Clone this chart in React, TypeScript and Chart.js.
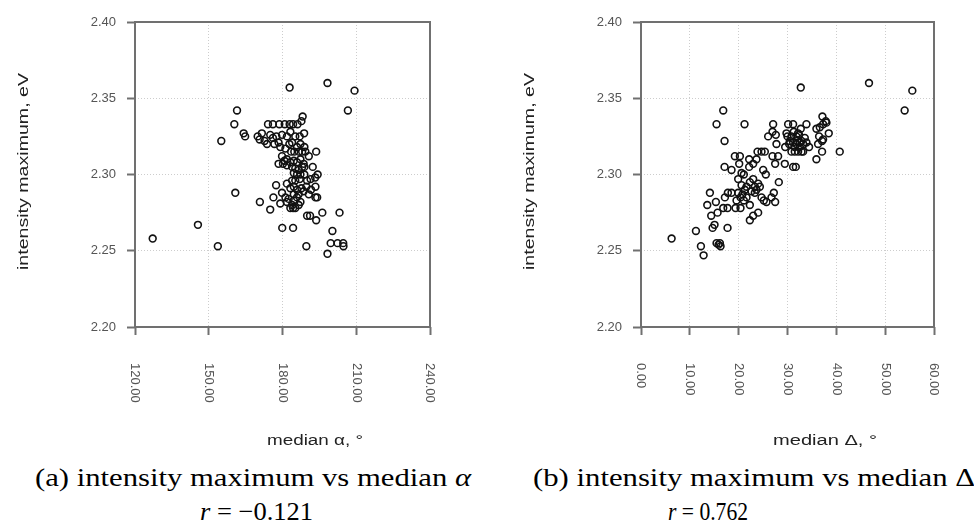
import React, { useEffect, useLayoutEffect, useRef } from "react";
import { Chart, registerables } from "chart.js";

Chart.register(...registerables);

// ---- Data: panel (a) intensity maximum vs median alpha ----
const alphaX = [
  174.1, 176.1, 178.7, 180.9, 182.9, 184.3, 186.1,
  188.2, 187.7, 188.8,
  169.9, 170.7, 171.6, 172.7, 173.7, 175.0, 176.1, 177.5, 176.7, 178.4, 179.8,
  181.8, 183.2, 183.9, 185.2, 187.0, 182.8, 185.9, 187.3, 188.9,
  179.1, 181.2, 183.5, 184.8, 186.6, 188.0, 189.3, 193.7, 190.7,
  179.8, 180.8, 181.8, 183.2, 184.6, 185.9, 187.3, 188.6, 178.4, 180.2, 181.8,
  183.9, 185.2, 186.6, 188.0, 188.9, 192.3, 184.6, 185.9, 187.3, 188.9, 194.3, 185.2, 187.0, 190.0, 193.3, 191.4, 183.9,
  177.4, 181.8, 183.2, 184.6, 185.9, 187.7, 189.7, 191.6, 193.4, 188.6, 186.6, 184.6, 190.7, 194.1, 193.4,
  179.8, 181.2, 182.5, 184.6, 185.9, 187.3, 183.9, 181.8, 179.1, 176.3, 185.2, 186.6, 184.3, 183.2,
  170.8, 175.0, 179.9, 184.3, 189.7, 198.3, 199.6, 200.3, 202.4, 204.7, 204.8, 203.2, 196.2, 193.7, 190.0, 191.2, 160.8,
  182.9, 198.3, 209.3, 206.6, 160.4, 161.5, 155.1, 164.2, 164.8, 127.2, 145.6, 153.7,
];
const alphaY = [
  2.333, 2.333, 2.333, 2.333, 2.333, 2.333, 2.333,
  2.338, 2.335, 2.327,
  2.325, 2.323, 2.327, 2.322, 2.320, 2.326, 2.324, 2.325, 2.320, 2.321, 2.326,
  2.325, 2.328, 2.321, 2.325, 2.325, 2.320, 2.318, 2.320, 2.318,
  2.318, 2.317, 2.315, 2.315, 2.315, 2.315, 2.315, 2.315, 2.312,
  2.312, 2.309, 2.310, 2.308, 2.309, 2.308, 2.310, 2.307, 2.307, 2.307, 2.306,
  2.305, 2.304, 2.303, 2.305, 2.305, 2.305, 2.301, 2.300, 2.300, 2.300, 2.300, 2.296, 2.297, 2.296, 2.298, 2.297, 2.296,
  2.293, 2.294, 2.291, 2.292, 2.290, 2.291, 2.292, 2.290, 2.292, 2.289, 2.287, 2.287, 2.287, 2.285, 2.285,
  2.288, 2.285, 2.284, 2.283, 2.285, 2.282, 2.280, 2.282, 2.281, 2.285, 2.278, 2.280, 2.278, 2.278,
  2.282, 2.277, 2.265, 2.265, 2.253, 2.248, 2.255, 2.263, 2.255, 2.255, 2.253, 2.275, 2.275, 2.270, 2.273, 2.273, 2.288,
  2.357, 2.360, 2.355, 2.342, 2.333, 2.342, 2.322, 2.327, 2.325, 2.258, 2.267, 2.253,
];

// ---- Data: panel (b) intensity maximum vs median Delta ----
const deltaX = [
  6.27, 11.25, 12.27, 12.82, 15.47, 16.16, 16.29, 15.88, 15.47, 16.84, 17.11, 17.11, 21.2, 32.72, 46.69, 55.56, 53.99, 40.7, 17.72, 14.66, 15.06,
  14.11, 13.57, 15.34, 14.38, 15.68, 16.84, 17.72, 17.18, 17.79, 18.54, 19.36, 19.56, 20.38, 19.9, 20.38, 20.79, 21.27,
  19.22, 20.25, 20.11, 19.9, 18.54, 20.59, 21.06, 20.59, 22.15, 22.15, 22.97, 23.65, 23.86, 24.68, 25.36, 21.61, 22.29, 22.97,
  23.31, 23.65, 23.99, 24.34, 23.31, 24.68, 25.15, 25.7, 25.02, 25.56, 22.29, 22.29, 22.97, 23.99, 21.61, 22.63, 21.06,
  26.04, 26.93, 27.06, 27.61, 27.74, 26.93, 27.47, 28.08, 26.72, 27.2, 27.47, 28.22, 29.45, 29.52, 29.79, 29.99, 30.47, 30.33, 30.13, 31.15,
  31.15, 31.7, 30.81, 31.49, 32.17, 33.2, 32.52, 31.83, 31.15, 30.81, 31.83, 32.38, 32.86, 33.54, 33.2, 33.88, 34.42, 33.88, 32.72, 32.17,
  31.29, 32.86, 31.97, 32.52, 31.49,
  35.92, 37.08, 37.08, 37.29, 38.45, 37.83, 37.15, 36.61, 35.92, 36.47, 37.29, 36.26, 37.97,
];
const deltaY = [
  2.258, 2.263, 2.253, 2.247, 2.255, 2.255, 2.253, 2.254, 2.333, 2.342, 2.322, 2.305, 2.333, 2.357, 2.360, 2.355, 2.342, 2.315, 2.265, 2.265, 2.267,
  2.288, 2.280, 2.282, 2.273, 2.275, 2.278, 2.278, 2.285, 2.288, 2.288, 2.278, 2.283, 2.278, 2.288, 2.285, 2.287, 2.290,
  2.312, 2.312, 2.307, 2.297, 2.303, 2.301, 2.300, 2.293, 2.305, 2.310, 2.307, 2.310, 2.315, 2.315, 2.315, 2.292, 2.295, 2.297,
  2.292, 2.290, 2.294, 2.292, 2.288, 2.285, 2.283, 2.282, 2.303, 2.300, 2.280, 2.270, 2.273, 2.275, 2.285, 2.289, 2.283,
  2.325, 2.328, 2.333, 2.326, 2.320, 2.312, 2.307, 2.312, 2.285, 2.288, 2.282, 2.295, 2.307, 2.318, 2.327, 2.325, 2.322, 2.320, 2.333, 2.333,
  2.305, 2.305, 2.315, 2.315, 2.315, 2.315, 2.318, 2.320, 2.321, 2.325, 2.325, 2.326, 2.322, 2.324, 2.320, 2.321, 2.318, 2.333, 2.330, 2.327,
  2.328, 2.315, 2.322, 2.321, 2.318,
  2.310, 2.315, 2.322, 2.323, 2.327, 2.335, 2.338, 2.331, 2.330, 2.325, 2.333, 2.320, 2.334,
];

// ---- Tick values ----
const alphaTicks = [120, 150, 180, 210, 240];
const deltaTicks = [0, 10, 20, 30, 40, 50, 60];
const energyTicks = [2.2, 2.25, 2.3, 2.35, 2.4];

const SANS = '"Liberation Sans", Arial, Helvetica, sans-serif';
const SERIF = '"Liberation Serif", "Times New Roman", serif';

const CANVAS_W = 487;
const CANVAS_H = 460;

type PanelProps = {
  xs: number[];
  ys: number[];
  xTicks: number[];
  plotLeft: number;
  plotRight: number;
  xTitle: string;
  yTitle: string;
  xTitleWidth: number;
};

function Panel({ xs, ys, xTicks, plotLeft, plotRight, xTitle, yTitle, xTitleWidth }: PanelProps) {
  const ref = useRef<HTMLCanvasElement>(null);
  useEffect(() => {
    const canvas = ref.current;
    if (!canvas) return;
    const plotTop = 22;
    const plotBottom = 327;
    const decor = {
      id: "decor",
      afterDraw(chart: any) {
        const { ctx, chartArea: a } = chart;
        const xs = chart.scales.x;
        ctx.save();
        // frame around plot region
        ctx.strokeStyle = "#707070";
        ctx.lineWidth = 2;
        ctx.strokeRect(a.left, a.top, a.right - a.left, a.bottom - a.top);
        // rotated x tick labels (reading top to bottom)
        ctx.fillStyle = "#555";
        ctx.font = `13px ${SANS}`;
        ctx.textAlign = "left";
        ctx.textBaseline = "middle";
        xs.ticks.forEach((t: any) => {
          const px = xs.getPixelForValue(t.value);
          ctx.save();
          ctx.translate(px, a.bottom + 36);
          ctx.rotate(Math.PI / 2);
          ctx.fillText(Number(t.value).toFixed(2), 0, 0);
          ctx.restore();
        });
        // x title
        ctx.fillStyle = "#222";
        ctx.font = `15.5px ${SANS}`;
        const wx = ctx.measureText(xTitle).width;
        ctx.save();
        ctx.translate(a.left + 132, a.bottom + 114);
        ctx.scale(xTitleWidth / wx, 1);
        ctx.textAlign = "left";
        ctx.textBaseline = "middle";
        ctx.fillText(xTitle, 0, 0);
        ctx.restore();
        // y title
        const wy = ctx.measureText(yTitle).width;
        ctx.save();
        ctx.translate(a.left - 111, 171.5);
        ctx.rotate(-Math.PI / 2);
        ctx.scale(197 / wy, 1);
        ctx.textAlign = "center";
        ctx.textBaseline = "middle";
        ctx.fillText(yTitle, 0, 0);
        ctx.restore();
        ctx.restore();
      },
    };
    const gridOpts = {
      color: "#cdcdcd",
      lineWidth: 1,
      drawTicks: true,
      tickLength: 8,
      tickColor: "#707070",
      tickWidth: 2,
    };
    const chart = new Chart(canvas, {
      type: "scatter",
      data: {
        datasets: [
          {
            data: xs.map((x, i) => ({ x, y: ys[i] })),
            pointStyle: "circle",
            pointRadius: 3.4,
            pointBorderWidth: 1.6,
            borderColor: "#111",
            backgroundColor: "rgba(0,0,0,0)",
            pointBackgroundColor: "rgba(0,0,0,0)",
            pointBorderColor: "#111",
          },
        ],
      },
      options: {
        responsive: false,
        animation: false,
        events: [],
        devicePixelRatio: 1,
        layout: { padding: { top: plotTop, right: CANVAS_W - plotRight, bottom: 0, left: 0 } },
        plugins: { legend: { display: false }, tooltip: { enabled: false }, title: { display: false } },
        scales: {
          x: {
            type: "linear",
            min: xTicks[0],
            max: xTicks[xTicks.length - 1],
            afterBuildTicks: (s: any) => {
              s.ticks = xTicks.map((v) => ({ value: v }));
            },
            afterFit: (s: any) => {
              s.height = CANVAS_H - plotBottom;
            },
            ticks: { display: false },
            grid: gridOpts,
            border: { display: false, dash: [1, 2] },
          },
          y: {
            type: "linear",
            min: energyTicks[0],
            max: energyTicks[energyTicks.length - 1],
            afterBuildTicks: (s: any) => {
              s.ticks = energyTicks.map((v) => ({ value: v }));
            },
            afterFit: (s: any) => {
              s.width = plotLeft;
            },
            ticks: {
              color: "#555",
              font: { family: SANS, size: 13 },
              padding: 11,
              callback: (v: any) => Number(v).toFixed(2),
            },
            grid: gridOpts,
            border: { display: false, dash: [1, 2] },
          },
        },
      },
      plugins: [decor],
    } as any);
    return () => chart.destroy();
  }, [xs, ys, xTicks, plotLeft, plotRight, xTitle, yTitle, xTitleWidth]);
  return <canvas ref={ref} width={CANVAS_W} height={CANVAS_H} style={{ display: "block", width: CANVAS_W, height: CANVAS_H }} />;
}

type FitProps = { left: number; baseline: number; width: number; size: number; children: React.ReactNode };

function FitText({ left, baseline, width, size, children }: FitProps) {
  const ref = useRef<HTMLSpanElement>(null);
  useLayoutEffect(() => {
    const el = ref.current;
    if (!el) return;
    el.style.transform = "none";
    const w = el.getBoundingClientRect().width;
    if (w > 0) el.style.transform = `scaleX(${width / w})`;
  }, [width]);
  return (
    <span
      ref={ref}
      style={{
        position: "absolute",
        left,
        top: baseline - 0.8375 * size,
        fontFamily: SERIF,
        fontSize: size,
        lineHeight: `${size}px`,
        whiteSpace: "nowrap",
        transformOrigin: "0 0",
        color: "#000",
      }}
    >
      {children}
    </span>
  );
}

export default function App() {
  return (
    <div
      style={{
        position: "absolute",
        left: 0,
        top: 0,
        width: 974,
        height: 525,
        overflow: "hidden",
        background: "#fff",
      }}
    >
      <div style={{ position: "absolute", left: 0, top: 0 }}>
        <Panel
          xs={alphaX}
          ys={alphaY}
          xTicks={alphaTicks}
          plotLeft={135}
          plotRight={430}
          xTitle="median α, °"
          yTitle="intensity maximum, eV"
          xTitleWidth={96}
        />
      </div>
      <div style={{ position: "absolute", left: CANVAS_W, top: 0 }}>
        <Panel
          xs={deltaX}
          ys={deltaY}
          xTicks={deltaTicks}
          plotLeft={641 - CANVAS_W}
          plotRight={934 - CANVAS_W}
          xTitle="median Δ, °"
          yTitle="intensity maximum, eV"
          xTitleWidth={104}
        />
      </div>
      <FitText left={35} baseline={487} width={436} size={26}>
        (a) intensity maximum vs median <i>α</i>
      </FitText>
      <FitText left={200} baseline={521} width={113} size={26}>
        <i>r</i> = −0.121
      </FitText>
      <FitText left={533} baseline={487} width={442} size={26}>
        (b) intensity maximum vs median Δ
      </FitText>
      <FitText left={668} baseline={521} width={80} size={26}>
        <i>r</i> = 0.762
      </FitText>
    </div>
  );
}
